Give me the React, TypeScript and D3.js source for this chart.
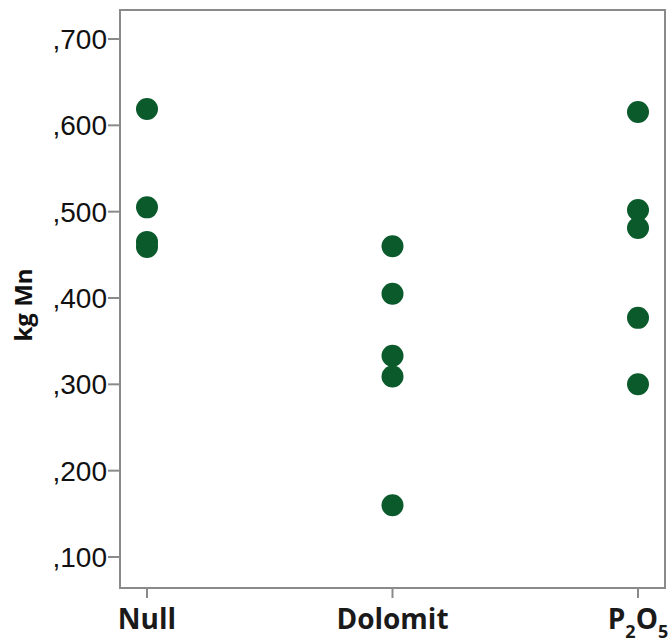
import React from "react";
import * as d3 from "d3";

const categories = ["Null", "Dolomit", "P2O5"];
const nullValues = [0.619, 0.505, 0.465, 0.459];
const dolomitValues = [0.460, 0.405, 0.333, 0.309, 0.160];
const p2o5Values = [0.6155, 0.502, 0.481, 0.377, 0.300];
const yTicks = [0.1, 0.2, 0.3, 0.4, 0.5, 0.6, 0.7];
const yLabel = "kg Mn";

const W = 670, H = 643;
const frame = { left: 120, top: 10, right: 665, bottom: 588 };

export default function App() {
  const y = d3.scaleLinear().domain([0.1, 0.7]).range([557, 39]);
  const x = d3.scalePoint<string>().domain(categories).range([147, 638]);
  const series = [nullValues, dolomitValues, p2o5Values];
  const fmt = (v: number) => "," + d3.format(".3f")(v).split(".")[1];
  const dot = "#0a5a2c";
  const axisCol = "#8a8a8a";
  return (
    <svg width={W} height={H} style={{ position: "absolute", left: 0, top: 0, background: "#fff" }}>
      <rect x={frame.left} y={frame.top} width={frame.right - frame.left} height={frame.bottom - frame.top}
        fill="none" stroke={axisCol} strokeWidth={2} />
      {yTicks.map((t) => (
        <g key={t}>
          <line x1={108} x2={frame.left} y1={y(t)} y2={y(t)} stroke={axisCol} strokeWidth={2} />
          <text x={107} y={y(t)} dy="0.36em" textAnchor="end" fontFamily="Liberation Sans, Arial, sans-serif"
            fontSize={28} fill="#111">{fmt(t)}</text>
        </g>
      ))}
      {categories.map((c) => (
        <line key={c} x1={x(c)} x2={x(c)} y1={frame.bottom} y2={598} stroke={axisCol} strokeWidth={2} />
      ))}
      <g fontFamily="Open Sans, sans-serif" fontWeight="bold" fontSize={28} fill="#1a1a1a">
        <text x={x("Null")} y={629} textAnchor="middle">Null</text>
        <text x={x("Dolomit")} y={629} textAnchor="middle">Dolomit</text>
        <text x={x("P2O5")} y={629} textAnchor="middle">
          P<tspan fontSize={18} dy={9}>2</tspan><tspan dy={-9}>O</tspan><tspan fontSize={18} dy={9}>5</tspan>
        </text>
      </g>
      <text transform={`translate(32,305) rotate(-90)`} textAnchor="middle" fontFamily="Open Sans, sans-serif"
        fontWeight="bold" fontSize={24} fill="#111">{yLabel}</text>
      {series.map((vals, i) =>
        vals.map((v, j) => (
          <circle key={`${i}-${j}`} cx={x(categories[i])} cy={y(v)} r={11} fill={dot} />
        ))
      )}
    </svg>
  );
}
